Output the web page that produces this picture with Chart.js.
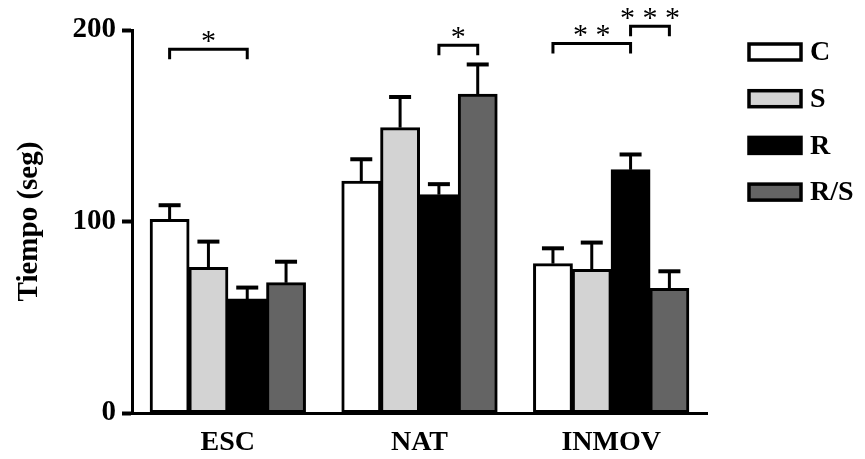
<!DOCTYPE html>
<html>
<head>
<meta charset="utf-8">
<script src="https://cdn.jsdelivr.net/npm/chart.js@4"></script>
<style>
    html, body { margin: 0; padding: 0; background: #fff; }
    #chart { display: block; }
</style>
</head>
<body>
<canvas id="chart" width="865" height="459"></canvas>
<script>
const categories = ['ESC', 'NAT', 'INMOV'];
const seriesNames = ['C', 'S', 'R', 'R/S'];
const seriesColors = ['#ffffff', '#d3d3d3', '#000000', '#646464'];

// mean values per group (ESC, NAT, INMOV)
const valuesC = [101, 121, 78];
const valuesS = [76, 149, 75];
const valuesR = [59.5, 114, 127];
const valuesRS = [68, 166.5, 65];

// error (SEM) per group
const errC = [7.5, 11.5, 8];
const errS = [13.5, 16, 14];
const errR = [6, 5.5, 8];
const errRS = [11, 15.5, 9];

const yTicks = [0, 100, 200];

// significance brackets: group index, from series, to series, height, label
const sigGroup = [0, 1, 2, 2];
const sigFrom = [0, 2, 0, 2];
const sigTo = [2, 3, 2, 3];
const sigValue = [190, 192, 193, 202];
const sigLabel = ['*', '*', '* *', '* * *'];

const allValues = [valuesC, valuesS, valuesR, valuesRS];
const allErrors = [errC, errS, errR, errRS];

const serif = "'Liberation Serif', 'Times New Roman', serif";

const errorBars = {
    id: 'errorBars',
    afterDatasetsDraw(chart) {
        const ctx = chart.ctx;
        const yScale = chart.scales.y;
        ctx.save();
        ctx.strokeStyle = '#000';
        chart.data.datasets.forEach((ds, i) => {
            const meta = chart.getDatasetMeta(i);
            meta.data.forEach((bar, j) => {
                const top = yScale.getPixelForValue(allValues[i][j] + allErrors[i][j]);
                ctx.lineWidth = 3;
                ctx.beginPath();
                ctx.moveTo(bar.x, bar.y);
                ctx.lineTo(bar.x, top);
                ctx.stroke();
                ctx.lineWidth = 4;
                ctx.beginPath();
                ctx.moveTo(bar.x - 11, top);
                ctx.lineTo(bar.x + 11, top);
                ctx.stroke();
            });
        });
        ctx.restore();
    }
};

const sigBrackets = {
    id: 'sigBrackets',
    afterDatasetsDraw(chart) {
        const ctx = chart.ctx;
        const yScale = chart.scales.y;
        ctx.save();
        ctx.strokeStyle = '#000';
        ctx.fillStyle = '#000';
        ctx.lineWidth = 3;
        ctx.font = '30px ' + serif;
        ctx.textAlign = 'center';
        ctx.textBaseline = 'alphabetic';
        for (let k = 0; k < sigGroup.length; k++) {
            const x1 = chart.getDatasetMeta(sigFrom[k]).data[sigGroup[k]].x;
            const x2 = chart.getDatasetMeta(sigTo[k]).data[sigGroup[k]].x;
            const y = yScale.getPixelForValue(sigValue[k]);
            ctx.beginPath();
            ctx.moveTo(x1, y + 10);
            ctx.lineTo(x1, y);
            ctx.lineTo(x2, y);
            ctx.lineTo(x2, y + 10);
            ctx.stroke();
            ctx.fillText(sigLabel[k], (x1 + x2) / 2, y + 1);
        }
        ctx.restore();
    }
};

const sideLegend = {
    id: 'sideLegend',
    afterDraw(chart) {
        const ctx = chart.ctx;
        ctx.save();
        ctx.font = 'bold 28px ' + serif;
        ctx.textBaseline = 'middle';
        ctx.textAlign = 'left';
        chart.data.datasets.forEach((ds, i) => {
            const cy = 52 + i * 46.7;
            ctx.fillStyle = ds.backgroundColor;
            ctx.fillRect(749, cy - 8, 52, 16);
            ctx.strokeStyle = '#000';
            ctx.lineWidth = 3.5;
            ctx.strokeRect(749, cy - 8, 52, 16);
            ctx.fillStyle = '#000';
            ctx.fillText(ds.label, 810, cy + 1);
        });
        ctx.restore();
    }
};

const datasets = seriesNames.map((name, i) => ({
    label: name,
    data: allValues[i],
    backgroundColor: seriesColors[i],
    borderColor: '#000',
    borderWidth: 3,
    borderSkipped: false,
    inflateAmount: 0.5,
    categoryPercentage: 0.81,
    barPercentage: 1.0
}));

new Chart(document.getElementById('chart'), {
    type: 'bar',
    data: { labels: categories, datasets: datasets },
    options: {
        responsive: false,
        animation: false,
        layout: { padding: { left: 0, right: 158, top: 30, bottom: 0 } },
        plugins: {
            legend: { display: false },
            tooltip: { enabled: false }
        },
        scales: {
            x: {
                grid: { display: false },
                border: { display: true, color: '#000', width: 3 },
                ticks: {
                    color: '#000',
                    padding: 5,
                    font: { family: serif, size: 28, weight: 'bold' }
                },
                afterFit(scale) { scale.height = 46; }
            },
            y: {
                min: 0,
                max: 200,
                afterBuildTicks(scale) {
                    scale.ticks = yTicks.map(v => ({ value: v }));
                },
                grid: {
                    drawOnChartArea: false,
                    drawTicks: true,
                    tickLength: 10,
                    tickWidth: 4,
                    tickColor: '#000'
                },
                border: { display: true, color: '#000', width: 3 },
                ticks: {
                    color: '#000',
                    padding: 6,
                    font: { family: serif, size: 29, weight: 'bold' }
                },
                title: {
                    display: true,
                    text: 'Tiempo (seg)',
                    color: '#000',
                    padding: { top: 12, bottom: 0 },
                    font: { family: serif, size: 29, weight: 'bold' }
                },
                afterFit(scale) { scale.width = 132; }
            }
        }
    },
    plugins: [errorBars, sigBrackets, sideLegend]
});
</script>
</body>
</html>
